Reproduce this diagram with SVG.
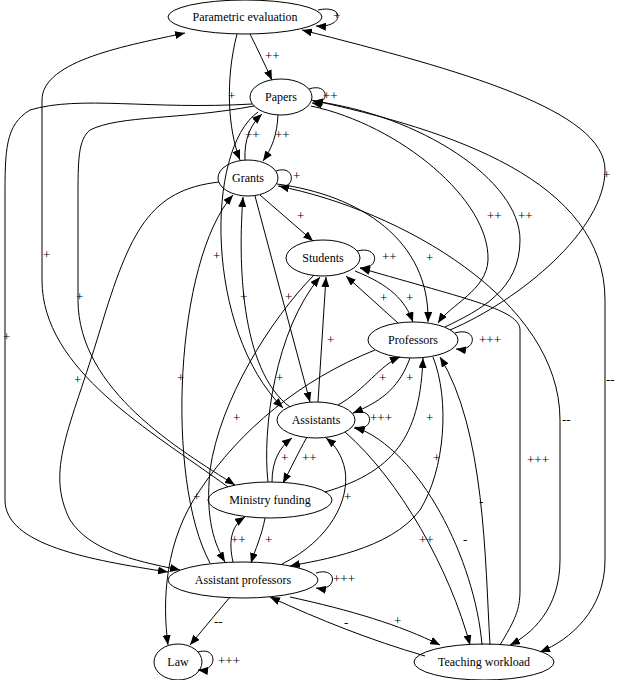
<svg xmlns="http://www.w3.org/2000/svg" width="620" height="680" viewBox="0 0 620 680">
<style>
.n ellipse{fill:none;stroke:#000;stroke-width:1}
.n text{font-family:"Liberation Serif",serif;font-size:12px;text-anchor:middle}
#edges path{fill:none;stroke:#000;stroke-width:1;marker-end:url(#a)}
.l{font-family:"Liberation Serif",serif;font-size:13px}
</style>
<defs><marker id="a" markerUnits="userSpaceOnUse" markerWidth="10" markerHeight="8" refX="10" refY="4" orient="auto"><path d="M0,0 L10,4 L0,8 z" fill="#000"/></marker></defs>
<rect width="620" height="680" fill="#fff"/>
<g id="edges">
<path d="M318,10 C345,4 345,28 316,26"/>
<path d="M250,34 C258,50 265,65 272,80"/>
<path d="M237,34 C225,80 228,130 240,160"/>
<path d="M309,89 C330,82 330,106 312,103"/>
<path d="M245,160 C244,140 250,125 262,114"/>
<path d="M278,115 C277,135 272,148 263,161"/>
<path d="M276,171 C296,164 296,190 279,186"/>
<path d="M260,195 L313,241"/>
<path d="M311,106 C400,125 490,200 488,260 C487,290 450,305 438,323"/>
<path d="M445,327 C480,310 520,290 520,240 C520,180 420,115 313,101"/>
<path d="M450,330 C520,300 605,230 605,170 C605,110 460,70 302,30"/>
<path d="M311,100 C450,130 605,180 605,300 L605,560 C605,610 570,640 540,652"/>
<path d="M228,487 C150,430 42,370 42,280 L42,100 C42,60 130,45 185,33"/>
<path d="M252,104 C150,110 80,95 30,110 C5,125 5,150 5,200 L5,500 C5,545 90,560 168,572"/>
<path d="M254,106 C180,120 120,115 90,130 C78,140 78,160 78,200 L78,300 C78,390 180,450 235,485"/>
<path d="M219,182 C150,190 130,230 100,330 C70,430 45,470 70,520 C90,550 130,560 180,570"/>
<path d="M277,184 C360,195 430,240 428,322"/>
<path d="M278,186 C400,210 560,300 560,420 L560,560 C560,610 530,635 510,645"/>
<path d="M357,251 C380,245 380,270 360,268"/>
<path d="M500,645 C515,620 520,610 520,590 L520,330 C520,310 470,300 360,268"/>
<path d="M398,323 L346,276"/>
<path d="M355,271 C390,285 405,300 413,322"/>
<path d="M455,333 C478,326 478,352 456,349"/>
<path d="M318,402 L326,277"/>
<path d="M338,405 C365,390 380,365 400,357"/>
<path d="M410,358 C400,385 385,400 353,413"/>
<path d="M325,492 C400,470 420,430 423,358"/>
<path d="M353,413 C375,406 375,432 354,428"/>
<path d="M258,112 C205,150 205,330 283,408"/>
<path d="M290,407 C240,370 238,260 243,197"/>
<path d="M255,196 L310,402"/>
<path d="M210,563 C165,480 175,260 233,195"/>
<path d="M268,482 C262,430 275,330 320,277"/>
<path d="M314,275 C270,320 220,400 210,470 C205,520 215,545 225,562"/>
<path d="M375,350 C300,380 240,430 200,490 C165,540 162,600 168,645"/>
<path d="M307,437 C297,455 290,470 283,483"/>
<path d="M272,482 C272,460 280,447 292,438"/>
<path d="M233,562 C228,540 232,525 245,517"/>
<path d="M265,518 C262,535 255,550 251,563"/>
<path d="M282,564 C330,540 350,500 345,470 C342,455 335,445 326,438"/>
<path d="M433,357 C450,400 445,470 420,510 C390,550 320,560 290,566"/>
<path d="M345,432 C400,480 450,570 470,645"/>
<path d="M482,645 C475,560 420,450 355,427"/>
<path d="M490,645 C485,560 485,430 440,357"/>
<path d="M316,573 C338,566 338,592 316,588"/>
<path d="M230,597 L190,645"/>
<path d="M290,597 C350,610 400,625 440,645"/>
<path d="M425,656 C370,640 320,620 270,597"/>
<path d="M198,652 C218,646 218,672 198,670"/>
</g>
<g id="labels" class="l">
<text x="333" y="20">+</text><text x="265" y="60">++</text><text x="228" y="100">+</text>
<text x="323" y="100">++</text><text x="245" y="139">++</text><text x="275" y="139">++</text>
<text x="293" y="180">+</text><text x="297" y="220">+</text><text x="487" y="220">++</text>
<text x="518" y="220">++</text><text x="603" y="179">+</text><text x="606" y="384">--</text>
<text x="43" y="259">+</text><text x="3" y="341">+</text><text x="76" y="301">+</text>
<text x="74" y="384">+</text><text x="426" y="262">+</text><text x="562" y="424">--</text>
<text x="382" y="261">++</text><text x="527" y="464">+++</text><text x="380" y="302">+</text>
<text x="406" y="302">+</text><text x="479" y="344">+++</text><text x="327" y="344">+</text>
<text x="379" y="382">+</text><text x="406" y="382">+</text><text x="426" y="422">+</text>
<text x="370" y="422">+++</text><text x="213" y="260">+</text><text x="240" y="301">+</text>
<text x="285" y="301">+</text><text x="177" y="382">+</text><text x="276" y="382">+</text>
<text x="233" y="422">+</text><text x="193" y="501">+</text><text x="281" y="462">+</text>
<text x="302" y="462">++</text><text x="231" y="544">++</text><text x="265" y="544">+</text>
<text x="344" y="501">+</text><text x="433" y="462">+</text><text x="419" y="544">++</text>
<text x="463" y="544">-</text><text x="479" y="506">-</text><text x="333" y="583">+++</text>
<text x="214" y="626">--</text><text x="394" y="625">+</text><text x="344" y="627">-</text>
<text x="218" y="665">+++</text>
</g>
<g id="pe" class="n"><ellipse cx="245" cy="17" rx="77" ry="17"/><text x="245" y="21">Parametric evaluation</text></g>
<g id="papers" class="n"><ellipse cx="281" cy="97" rx="31" ry="18"/><text x="281" y="101">Papers</text></g>
<g id="grants" class="n"><ellipse cx="248" cy="178" rx="30" ry="18"/><text x="248" y="182">Grants</text></g>
<g id="students" class="n"><ellipse cx="323" cy="258" rx="37" ry="18"/><text x="323" y="262">Students</text></g>
<g id="professors" class="n"><ellipse cx="413" cy="340" rx="45" ry="18"/><text x="413" y="344">Professors</text></g>
<g id="assistants" class="n"><ellipse cx="316" cy="420" rx="39" ry="18"/><text x="316" y="424">Assistants</text></g>
<g id="mf" class="n"><ellipse cx="270" cy="500" rx="62" ry="18"/><text x="270" y="504">Ministry funding</text></g>
<g id="ap" class="n"><ellipse cx="243" cy="580" rx="75" ry="18"/><text x="243" y="584">Assistant professors</text></g>
<g id="law" class="n"><ellipse cx="178" cy="662" rx="24" ry="18"/><text x="178" y="666">Law</text></g>
<g id="tw" class="n"><ellipse cx="484" cy="662" rx="70" ry="18"/><text x="484" y="666">Teaching workload</text></g>
</svg>
